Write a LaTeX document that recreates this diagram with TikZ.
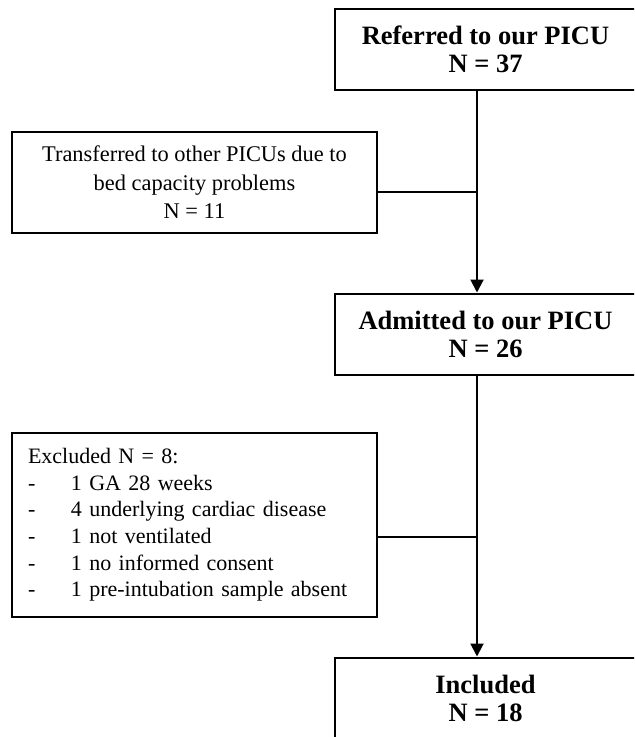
\documentclass[tikz,border=0pt]{standalone}
\usepackage{fontspec}
\setmainfont{Liberation Serif}
\usetikzlibrary{positioning,arrows.meta}
\tikzset{
  >={Triangle[width=6.5pt,length=6.5pt]},
  mainbox/.style={draw, line width=1pt, minimum width=150.5pt, minimum height=40.5pt,
    align=center, font=\fontsize{13.25}{14}\selectfont\bfseries},
  sidebox/.style={draw, line width=1pt, minimum width=182.5pt,
    font=\fontsize{11}{13.3}\selectfont},
  flow/.style={line width=1pt}
}
\newcommand{\dashitem}{\makebox[21.5pt][l]{-}}
\begin{document}
\begin{tikzpicture}[x=0.5pt, y=-0.5pt]
\useasboundingbox (0,0) rectangle (635,737);
\clip (0,0) rectangle (634,737);

\node[mainbox] (ref) at (485.5,49.5) {Referred to our PICU\\N = 37};
\node[mainbox] (adm) at (485.5,334) {Admitted to our PICU\\N = 26};
\node[mainbox] (inc) at (485.5,698) {Included\\N = 18};

\node[sidebox, minimum height=50.5pt, align=center, font=\fontsize{11.2}{14.3}\selectfont] (trans) at (194.5,182.5)
  {Transferred to other PICUs due to\\bed capacity problems\\N = 11};
\node[sidebox, minimum height=92pt, text width=166.5pt, inner xsep=8pt, align=left] (excl) at (194.5,525)
  {Excluded N = 8:\\
   \dashitem 1 GA 28 weeks\\
   \dashitem 4 underlying cardiac disease\\
   \dashitem 1 not ventilated\\
   \dashitem 1 no informed consent\\
   \dashitem 1 pre-intubation sample absent};

\coordinate (j1) at (477,192);
\coordinate (j2) at (477,537);

\draw[flow, ->] (ref.south -| j1) -- (adm.north -| j1);
\draw[flow] (trans.east |- j1) -- (j1);
\draw[flow, ->] (adm.south -| j2) -- (inc.north -| j2);
\draw[flow] (excl.east |- j2) -- (j2);
\end{tikzpicture}
\end{document}
